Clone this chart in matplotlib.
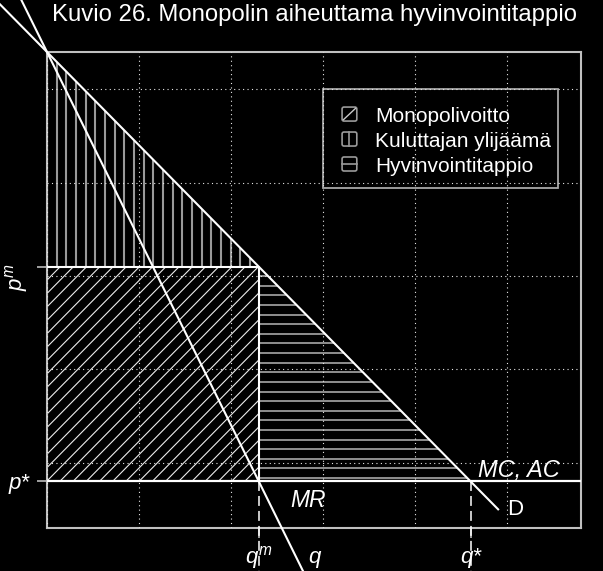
import numpy as np
import matplotlib.pyplot as plt
from matplotlib.collections import LineCollection
from matplotlib.patches import Polygon, Rectangle, FancyBboxPatch

# linear demand p = a - b*q, constant marginal (= average) cost mc
a = 10.8
b = 1.0
mc = 1.6
q_m = (a - mc) / (2 * b)
p_m = a - b * q_m
q_star = (a - mc) / b

d_range = [-1.2, 9.8]
mr_range = [-0.6, 6.0]
grid_x = [0, 2, 4, 6, 8, 10]
grid_y = [2, 4, 6, 8, 10]

title = 'Kuvio 26. Monopolin aiheuttama hyvinvointitappio'
legend_labels = ['Monopolivoitto', 'Kuluttajan ylijäämä', 'Hyvinvointitappio']
legend_kinds = ['/', '|', '-']

plt.rcParams['font.family'] = ['Liberation Sans', 'DejaVu Sans']
plt.rcParams['mathtext.fontset'] = 'custom'
plt.rcParams['mathtext.it'] = 'Liberation Sans:italic'
plt.rcParams['mathtext.rm'] = 'Liberation Sans'

W, H = 603, 571
fig = plt.figure(figsize=(W / 100, H / 100), dpi=100, facecolor='black')
ax = fig.add_axes([47 / W, 1 - 528 / H, (581 - 47) / W, (528 - 52) / H])
ax.set_facecolor('black')
ax.set_xlim(0, 11.6)
ax.set_ylim(0.6, 10.8)


def hatch(verts, kind, step, color, lw, start=0.0):
    poly = Polygon(verts, closed=True, fill=False, edgecolor='none')
    ax.add_patch(poly)
    xs = [v[0] for v in verts]
    ys = [v[1] for v in verts]
    x0, x1, y0, y1 = min(xs), max(xs), min(ys), max(ys)
    if kind == '|':
        segs = [[(x, y0), (x, y1)] for x in np.arange(x0 + start, x1, step)]
    elif kind == '-':
        segs = [[(x0, y), (x1, y)] for y in np.arange(y0 + start, y1, step)]
    else:
        span = y1 - y0
        segs = [[(x, y0), (x + span, y1)]
                for x in np.arange(x0 - span + start, x1, step)]
    lc = LineCollection(segs, colors=color, linewidths=lw, zorder=1)
    lc.set_clip_path(poly)
    ax.add_collection(lc)


# monopoly profit, consumer surplus, deadweight loss
hatch([(0, mc), (q_m, mc), (q_m, p_m), (0, p_m)], '/', 0.287, '#ececec', 0.8)
hatch([(0, p_m), (q_m, p_m), (0, a)], '|', 0.21, '#9a9a9a', 1.5)
hatch([(q_m, p_m), (q_m, mc), (q_star, mc)], '-', 0.206, '#9a9a9a', 1.3, start=0.07)

# legend (drawn below the grid, like the original)
lx0, lx1, ly0, ly1 = 6.0, 11.1, 7.885, 10.0
ax.add_patch(Rectangle((lx0, ly0), lx1 - lx0, ly1 - ly0, fill=False,
                       edgecolor='#a8a8a8', lw=1.3, zorder=2))
for i, (lab, kind) in enumerate(zip(legend_labels, legend_kinds)):
    yc = 9.47 - 0.535 * i
    kx, kw, kh = 6.41, 0.32, 0.30
    ax.add_patch(FancyBboxPatch((kx, yc - kh / 2), kw, kh,
                                boxstyle='round,pad=0,rounding_size=0.04',
                                fill=False, edgecolor='#9a9a9a', lw=1.2, zorder=2))
    if kind == '/':
        ax.plot([kx + 0.03, kx + kw - 0.03], [yc - kh / 2 + 0.03, yc + kh / 2 - 0.03],
                color='#c8c8c8', lw=1.0, zorder=2)
    elif kind == '|':
        ax.plot([kx + kw / 2] * 2, [yc - kh / 2, yc + kh / 2], color='#9a9a9a', lw=1.2, zorder=2)
    else:
        ax.plot([kx, kx + kw], [yc] * 2, color='#9a9a9a', lw=1.2, zorder=2)
    ax.text(7.12, yc - 0.17, lab, color='white', fontsize=15, ha='left',
            va='baseline', zorder=2)

# grid
for gx in grid_x:
    ax.axvline(gx, color='#e6e6e6', lw=0.8, ls=(0, (1, 3)), zorder=3)
for gy in grid_y:
    ax.axhline(gy, color='#e6e6e6', lw=0.8, ls=(0, (1, 3)), zorder=3)

# curves
qd = np.array(d_range)
ax.plot(qd, a - b * qd, color='white', lw=1.5, clip_on=False, zorder=5)
qr = np.array(mr_range)
ax.plot(qr, a - 2 * b * qr, color='white', lw=1.5, clip_on=False, zorder=5)
ax.axhline(mc, color='white', lw=1.6, zorder=5)
ax.plot([0, q_m, q_m], [p_m, p_m, mc], color='white', lw=1.5, zorder=5)
for qv in [q_m, q_star]:
    ax.plot([qv, qv], [mc, -0.5], color='white', lw=1.1, ls=(0, (6.5, 3.3)),
            clip_on=False, zorder=5)

# frame and ticks
for s in ax.spines.values():
    s.set_color('#c0c0c0')
    s.set_linewidth(1.5)
ax.set_xticks([q_m, q_star])
ax.set_yticks([mc, p_m])
ax.set_xticklabels([])
ax.set_yticklabels([])
ax.tick_params(length=7, width=1.4, color='#a0a0a0', direction='out')

# labels
lab_kw = dict(color='white', fontsize=16, clip_on=False)
ax.text(q_m, -0.16, '$q^m$', ha='center', va='baseline', **lab_kw)
ax.text(q_star, -0.16, 'q*', ha='center', va='baseline', style='italic', **lab_kw)
ax.text(5.8, -0.16, 'q', ha='center', va='baseline', style='italic', **lab_kw)
ax.text(-0.6, 1.446, 'p*', ha='center', va='baseline', style='italic', **lab_kw)
ax.text(-0.67, 5.98, '$p^m$', ha='center', va='center', rotation=90, **lab_kw)
ax.text(5.66, 1.18, 'MR', ha='center', va='center', style='italic',
        color='white', fontsize=16.5)
ax.text(10.24, 1.83, 'MC, AC', ha='center', va='center', style='italic',
        color='white', fontsize=17)
ax.text(10.17, 0.995, 'D', ha='center', va='center', **lab_kw)

fig.text(315 / W, 1 - 21 / H, title, ha='center', va='baseline', color='white', fontsize=17.2)

fig.savefig('out.png', dpi=100, facecolor='black')
